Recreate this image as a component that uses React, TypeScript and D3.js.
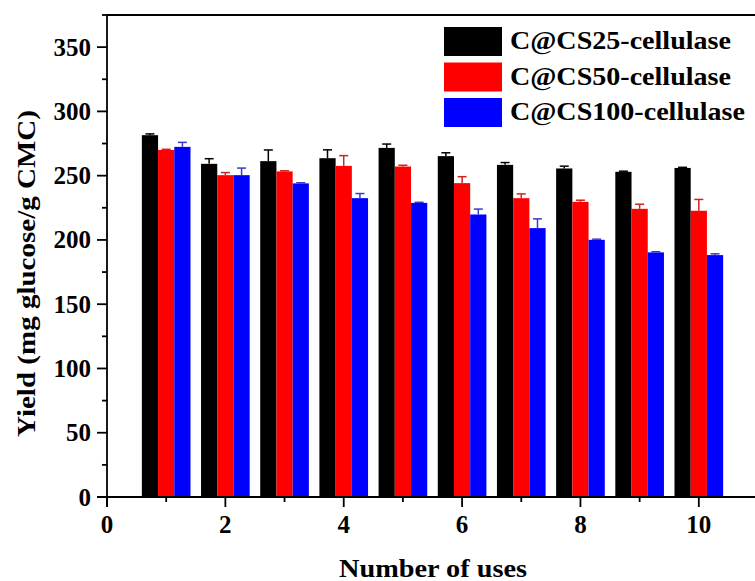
import React from "react";
import * as d3 from "d3";

const uses = [1, 2, 3, 4, 5, 6, 7, 8, 9, 10];
const seriesNames = ["C@CS25-cellulase", "C@CS50-cellulase", "C@CS100-cellulase"];
const cs25 = [281.5, 259.2, 261.3, 263.6, 271.6, 265.2, 258.4, 255.6, 253.0, 256.0];
const cs25Err = [1, 4, 8.7, 6.5, 3, 2.6, 1.8, 1.8, 0.5, 0.5];
const cs50 = [270.0, 250.4, 253.3, 257.6, 257.1, 244.2, 232.5, 229.6, 224.2, 222.7];
const cs50Err = [0.5, 2, 0.5, 8, 1, 5, 3.3, 1.3, 3.6, 8.8];
const cs100 = [272.4, 250.4, 244.0, 232.5, 228.8, 219.8, 209.2, 200.1, 190.3, 188.2];
const cs100Err = [3.5, 5.5, 0.5, 3.6, 0.5, 4.2, 7.2, 0.5, 0.5, 1];
const yTicks = [0, 50, 100, 150, 200, 250, 300, 350];
const xTicks = [0, 2, 4, 6, 8, 10];

const colors = ["#000000", "#ff0000", "#0000ff"];
const errColors = ["#000000", "#d42020", "#3a3acc"];
const FONT = "Liberation Serif, Tinos, Times New Roman, DejaVu Serif, serif";

export default function App() {
  const W = 755, H = 581;
  const x = d3.scaleLinear().domain([0, 11]).range([107, 758]);
  const y = d3.scaleLinear().domain([0, 375]).range([497, 15]);
  const barW = 0.274;
  const series = [
    { v: cs25, e: cs25Err },
    { v: cs50, e: cs50Err },
    { v: cs100, e: cs100Err },
  ];
  const yMinor = d3.range(25, 376, 50);
  const xMinor = d3.range(1, 11, 2);
  const y0 = y(0);
  const capHalf = 4.5;
  const legendLens = [221, 221, 235];

  return (
    <svg width={W} height={H} style={{ position: "absolute", left: 0, top: 0, background: "#fff" }}>
      <rect x={0} y={0} width={W} height={H} fill="#fff" />
      {series.map((s, si) =>
        uses.map((u, i) => {
          const xl = x(u + (si - 1.5) * barW);
          const xr = x(u + (si - 0.5) * barW);
          return (
            <rect key={`b${si}-${i}`} x={xl} y={y(s.v[i])} width={xr - xl} height={y0 - y(s.v[i])} fill={colors[si]} />
          );
        })
      )}
      {series.map((s, si) =>
        uses.map((u, i) => {
          const cx = x(u + (si - 1) * barW);
          const yt = y(s.v[i] + s.e[i]);
          return (
            <g key={`e${si}-${i}`} stroke={errColors[si]} strokeWidth={1.5}>
              <line x1={cx} x2={cx} y1={y(s.v[i])} y2={yt} />
              <line x1={cx - capHalf} x2={cx + capHalf} y1={yt} y2={yt} />
            </g>
          );
        })
      )}
      <g stroke="#000" strokeWidth={1.8}>
        <line x1={x(0)} x2={x(0)} y1={y(375)} y2={y0 + 10} />
        <line x1={x(0) - 10} x2={W} y1={y0} y2={y0} />
        <line x1={x(0)} x2={W} y1={y(375)} y2={y(375)} />
        {yTicks.map((t) => (
          <line key={`yt${t}`} x1={x(0) - 10} x2={x(0)} y1={y(t)} y2={y(t)} />
        ))}
        {yMinor.map((t) => (
          <line key={`ym${t}`} x1={x(0) - 5} x2={x(0)} y1={y(t)} y2={y(t)} />
        ))}
        {xTicks.map((t) => (
          <line key={`xt${t}`} x1={x(t)} x2={x(t)} y1={y0} y2={y0 + 10} />
        ))}
        {xMinor.map((t) => (
          <line key={`xm${t}`} x1={x(t)} x2={x(t)} y1={y0} y2={y0 + 5} />
        ))}
      </g>
      <g fontFamily={FONT} fontWeight="bold" fontSize={25} fill="#000">
        {yTicks.map((t) => (
          <text key={`yl${t}`} x={x(0) - 16} y={y(t)} dy="0.34em" textAnchor="end">
            {t}
          </text>
        ))}
        {xTicks.map((t) => (
          <text key={`xl${t}`} x={x(t)} y={533} textAnchor="middle">
            {t}
          </text>
        ))}
      </g>
      <text
        x={433}
        y={577}
        textAnchor="middle"
        fontFamily={FONT}
        fontWeight="bold"
        fontSize={25}
        textLength={188}
        lengthAdjust="spacingAndGlyphs"
      >
        Number of uses
      </text>
      <text
        transform={`translate(35, 273.5) rotate(-90)`}
        textAnchor="middle"
        fontFamily={FONT}
        fontWeight="bold"
        fontSize={26}
        textLength={327}
        lengthAdjust="spacingAndGlyphs"
      >
        Yield (mg glucose/g CMC)
      </text>
      {seriesNames.map((n, i) => (
        <g key={`lg${i}`} transform={`translate(444, ${27 + i * 35.5})`}>
          <rect x={0} y={0} width={58} height={29} fill={colors[i]} />
          <text
            x={66}
            y={22}
            fontFamily={FONT}
            fontWeight="bold"
            fontSize={26}
            textLength={legendLens[i]}
            lengthAdjust="spacingAndGlyphs"
          >
            {n}
          </text>
        </g>
      ))}
    </svg>
  );
}
